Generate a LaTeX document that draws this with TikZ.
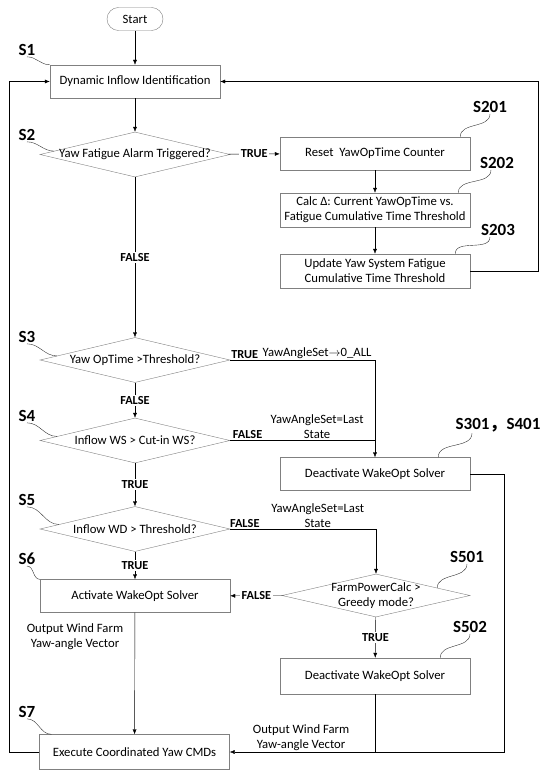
\documentclass[tikz,border=0pt]{standalone}
\usepackage{fontspec}
\setmainfont{Carlito}
\newfontfamily\cjk{Noto Sans CJK SC}
\usetikzlibrary{
    shapes.geometric,
    arrows.meta,
    positioning,
    calc
}

\begin{document}
\begin{tikzpicture}[x=1pt, y=-1pt,
        font=\fontsize{12.7}{15}\selectfont,
        >={Latex[length=5pt,width=4pt]},
        proc/.style={draw=black!50, rectangle, minimum width=190pt, minimum height=33pt, align=center, inner sep=2pt},
        decision/.style={draw=black!50, diamond, minimum width=190pt, minimum height=45pt, inner sep=0pt, label={[align=center]center:#1}},
        flag/.style={font=\fontsize{12.3}{14}\selectfont\bfseries, inner sep=1.5pt},
        onflag/.style={flag, fill=white},
        note/.style={align=center, inner sep=1.5pt},
        steptag/.style={font=\fontsize{17}{19}\selectfont\bfseries, inner sep=1pt},
        leader/.style={black!80, thin}
    ]
    \useasboundingbox (0,0) rectangle (550,773);

    \node[draw=black!50, rounded corners=11.5pt, minimum width=56pt, minimum height=23pt] (start) at (135,19) {Start};
    \node[proc, minimum width=170pt] (s1) at (135,81.5) {Dynamic Inflow Identification};
    \node[decision={Yaw Fatigue Alarm Triggered?}] (s2) at (135,154.5) {};
    \node[proc] (s201) at (375,153.5) {Reset\ \ YawOpTime Counter};
    \node[proc, minimum height=34pt] (s202) at (375,210) {Calc Δ: Current YawOpTime vs.\\Fatigue Cumulative Time Threshold};
    \node[proc, minimum height=34pt] (s203) at (375,271) {Update Yaw System Fatigue\\Cumulative Time Threshold};
    \node[decision={Yaw OpTime >Threshold?}] (s3) at (135,360) {};
    \node[decision={Inflow WS > Cut-in WS?}] (s4) at (135,440.5) {};
    \node[proc] (s301) at (375,474) {Deactivate WakeOpt Solver};
    \node[decision={Inflow WD > Threshold?}] (s5) at (135,529) {};
    \node[proc] (s6) at (135,596) {Activate WakeOpt Solver};
    \node[decision={FarmPowerCalc >\\Greedy mode?}, minimum width=188pt, minimum height=43pt] (s501) at (376,595.5) {};
    \node[proc, minimum height=36pt] (s502) at (375,676) {Deactivate WakeOpt Solver};
    \node[proc, minimum height=35pt] (s7) at (134.5,752) {Execute Coordinated Yaw CMDs};

    % main flow
    \draw[->] (start) -- (s1);
    \draw[->] (s1) -- (s2);
    \draw[->] (s2) -- node[onflag] {TRUE} (s201);
    \draw[->] (s201) -- (s202);
    \draw[->] (s202) -- (s203);
    \draw[->] (s203.east) -- ++(68,0) |- (s1.east);
    \draw[->] (s2) -- node[onflag] {FALSE} (s3);
    \draw[->] (s3.east) -| node[flag, above, pos=0.05] {TRUE} node[note, above, pos=0.3] {YawAngleSet$\rightarrow$0\_ALL} (s301.north);
    \draw[->] (s3) -- node[onflag] {FALSE} (s4);
    \draw (s4.east) -- node[flag, above, pos=0.12] {FALSE} node[note, above, pos=0.6] {YawAngleSet=Last\\State} (s4.east -| s301.north);
    \draw[->] (s4) -- node[onflag] {TRUE} (s5);
    \draw[->] (s5) -- node[onflag] {TRUE} (s6);
    \draw[->] (s5.east) -| node[flag, above, pos=0.05] {FALSE} node[note, above, pos=0.3] {YawAngleSet=Last\\State} (s501.north);
    \draw[->] (s501) -- node[onflag] {FALSE} (s6);
    \draw[->] (s501) -- node[onflag] {TRUE} (s502);
    \draw[->] (s6) -- node[note, left=10pt, pos=0.2] {Output Wind Farm\\Yaw-angle Vector} (s7);
    \draw[->] (s301.east) -- ++(34,0) |- node[note, above, pos=0.87] {Output Wind Farm\\Yaw-angle Vector} (s7.east);
    \draw (s502) -- (s502.south |- s7.east);
    \draw[->] (s7.west) -- ++(-30,0) |- (s1.west);

    % step tags
    \node[steptag] (t1) at (27,50) {S1};
    \node[steptag] (t2) at (27,135) {S2};
    \node[steptag] (t3) at (27,337) {S3};
    \node[steptag] (t4) at (27,416) {S4};
    \node[steptag] (t5) at (27,500) {S5};
    \node[steptag] (t6) at (27,559) {S6};
    \node[steptag] (t7) at (27,712) {S7};
    \node[steptag] (t201) at (490,107) {S201};
    \node[steptag] (t202) at (497,163) {S202};
    \node[steptag] (t203) at (498,230) {S203};
    \node[steptag] (t301) at (498,425) {S301{\cjk ，}S401};
    \node[steptag] (t501) at (467,557) {S501};
    \node[steptag] (t502) at (470,627) {S502};

    \draw[leader] (t1.south) to[out=0, in=180] (s1.north west);
    \draw[leader] (t2.south) to[out=0, in=180] ($(s2.west)!0.15!(s2.north)$);
    \draw[leader] (t3.south) to[out=0, in=180] ($(s3.west)!0.18!(s3.north)$);
    \draw[leader] (t4.south) to[out=0, in=180] ($(s4.west)!0.18!(s4.north)$);
    \draw[leader] (t5.south) to[out=0, in=180] ($(s5.west)!0.2!(s5.north)$);
    \draw[leader] (t6.south) to[out=0, in=180] (s6.north west);
    \draw[leader] (t7.south) to[out=0, in=180] ($(s7.north west)+(12,0)$);
    \draw[leader] (t201.south) to[out=-90, in=90] ($(s201.north east)+(-10,0)$);
    \draw[leader] ([xshift=-6pt]t202.south) to[out=-90, in=90] ($(s202.north east)+(-12,0)$);
    \draw[leader] ([xshift=-8pt]t203.south) to[out=-90, in=90] ($(s203.north east)+(-15,0)$);
    \draw[leader] ([xshift=-26pt]t301.south) to[out=-90, in=90] ($(s301.north east)+(-32,0)$);
    \draw[leader] (t501.south) to[out=-90, in=90] ($(s501.east)!0.35!(s501.north)$);
    \draw[leader] (t502.south) to[out=-90, in=90] ($(s502.north east)+(-30,0)$);
\end{tikzpicture}
\end{document}
